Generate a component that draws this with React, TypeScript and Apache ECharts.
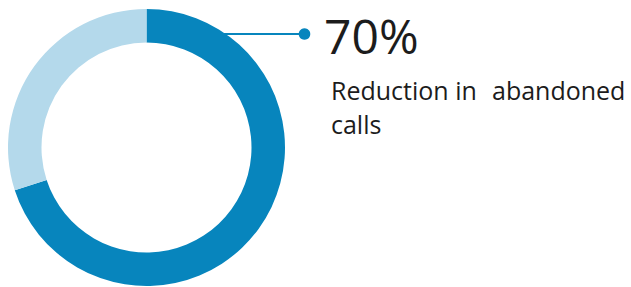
import React, { useEffect, useRef } from "react";
import * as echarts from "echarts";

const categories = ["Reduced", "Remaining"];
const values = [70, 30];
const headline = "70%";
const captionLine1a = "Reduction in";
const captionLine1b = "abandoned";
const captionLine2 = "calls";

const DARK = "#0785bd";
const LIGHT = "#b4d9eb";
const TEXT = "#1c1c1c";
const FONT = '"Open Sans", Roboto, sans-serif';

export default function App() {
  const ref = useRef<HTMLDivElement>(null);
  useEffect(() => {
    if (!ref.current) return;
    const chart = echarts.init(ref.current, undefined, { renderer: "svg" });
    chart.setOption({
      animation: false,
      series: [
        {
          type: "pie",
          center: [146.5, 147.5],
          radius: [105, 138.5],
          startAngle: 90,
          clockwise: true,
          silent: true,
          label: { show: false },
          labelLine: { show: false },
          data: categories.map((c, i) => ({
            name: c,
            value: values[i],
            itemStyle: { color: i === 0 ? DARK : LIGHT },
          })),
        },
      ],
      graphic: [
        {
          type: "line",
          shape: { x1: 224, y1: 34, x2: 304, y2: 34 },
          style: { stroke: DARK, lineWidth: 2 },
          z: 10,
        },
        {
          type: "circle",
          shape: { cx: 304.5, cy: 34, r: 5.8 },
          style: { fill: DARK },
          z: 10,
        },
        {
          type: "text",
          x: 324,
          y: 11,
          style: {
            text: headline,
            font: `400 48px ${FONT}`,
            fill: TEXT,
          },
        },
        {
          type: "text",
          x: 331,
          y: 77,
          style: {
            text: captionLine1a,
            font: `400 25px ${FONT}`,
            fill: TEXT,
          },
        },
        {
          type: "text",
          x: 492,
          y: 77,
          style: {
            text: captionLine1b,
            font: `400 25px ${FONT}`,
            fill: TEXT,
          },
        },
        {
          type: "text",
          x: 331,
          y: 111,
          style: {
            text: captionLine2,
            font: `400 25px ${FONT}`,
            fill: TEXT,
          },
        },
      ],
    });
    return () => chart.dispose();
  }, []);
  return (
    <div
      ref={ref}
      style={{ position: "fixed", left: 0, top: 0, width: 631, height: 287, background: "#fff" }}
    />
  );
}
